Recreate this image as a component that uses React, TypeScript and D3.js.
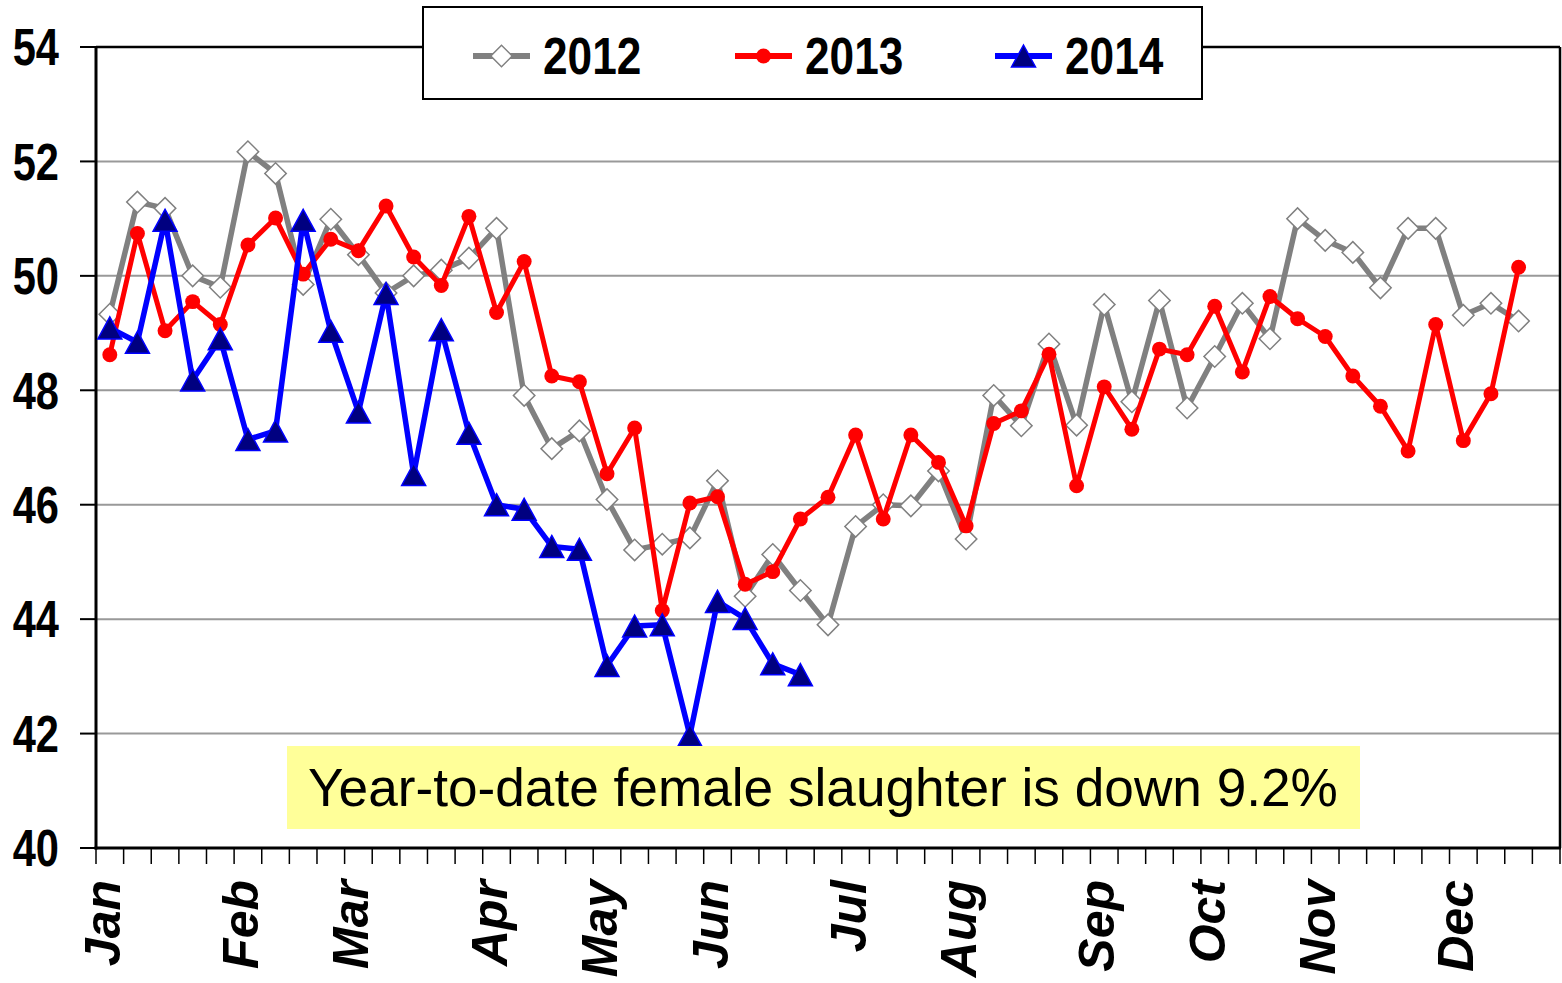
import * as d3 from 'd3';

const W = 1562;
const H = 983;

// weekly categories, 53 slots on the x axis
const weeks = d3.range(53);

const months = ['Jan', 'Feb', 'Mar', 'Apr', 'May', 'Jun', 'Jul', 'Aug', 'Sep', 'Oct', 'Nov', 'Dec'];
const monthWeeks = [0, 5, 9, 14, 18, 22, 27, 31, 36, 40, 44, 49];

const yTicks = [40, 42, 44, 46, 48, 50, 52, 54];

const series2012 = [
  49.33, 51.29, 51.18, 50.0, 49.8, 52.17, 51.79, 49.85, 50.99, 50.37,
  49.7, 50.0, 50.1, 50.31, 50.83, 47.91, 46.98, 47.29, 46.09, 45.21,
  45.31, 45.42, 46.42, 44.4, 45.13, 44.5, 43.9, 45.62, 46.0, 45.98,
  46.59, 45.4, 47.91, 47.38, 48.81, 47.39, 49.5, 47.8, 49.57, 47.69,
  48.59, 49.52, 48.9, 51.0, 50.62, 50.41, 49.79, 50.83, 50.83, 49.31,
  49.52, 49.21,
];

const series2013 = [
  48.62, 50.74, 49.04, 49.55, 49.15, 50.54, 51.01, 50.03, 50.64, 50.44,
  51.22, 50.33, 49.83, 51.04, 49.36, 50.25, 48.25, 48.15, 46.54, 47.34,
  44.15, 46.03, 46.14, 44.61, 44.83, 45.75, 46.13, 47.22, 45.75, 47.22,
  46.74, 45.63, 47.42, 47.64, 48.63, 46.33, 48.06, 47.32, 48.72, 48.62,
  49.47, 48.32, 49.64, 49.25, 48.94, 48.25, 47.72, 46.94, 49.15, 47.12,
  47.94, 50.15,
];

const series2014 = [
  49.09, 48.84, 50.97, 48.18, 48.9, 47.14, 47.29, 50.97, 49.03, 47.62,
  49.69, 46.53, 49.06, 47.25, 46.0, 45.92, 45.27, 45.22, 43.19, 43.88,
  43.9, 41.97, 44.31, 44.01, 43.22, 43.03,
];

const legendLabels = ['2012', '2013', '2014'];

const note = 'Year-to-date female slaughter is down 9.2%';

const sans = "'Liberation Sans', Arial, sans-serif";

const left = 96;
const right = 1560;
const top = 47;
const bottom = 848;

function triangle(w: number, h: number) {
  return `M0,${-h / 2}L${w / 2},${h / 2}L${-w / 2},${h / 2}Z`;
}

export default function App() {
  const x = d3.scaleBand<number>().domain(weeks).range([left, right]).paddingInner(0).paddingOuter(0);
  const y = d3.scaleLinear().domain([40, 54]).range([bottom, top]);
  const cx = (i: number) => (x(i) as number) + x.bandwidth() / 2;

  const line = d3.line<number>().x((d, i) => cx(i)).y(d => y(d));

  const diamond = d3.symbol().type(d3.symbolSquare).size(230)();
  const circle = d3.symbol().type(d3.symbolCircle).size(175)();
  const tri = triangle(24, 22);

  const tickXs = weeks.map(i => x(i) as number).concat([right]);

  const styles = [
    { color: '#808080', width: 5.5, data: series2012 },
    { color: '#ff0000', width: 5, data: series2013 },
    { color: '#0000ff', width: 5.5, data: series2014 },
  ];

  const marker = (k: number, tx: number, ty: number, key?: number) => {
    if (k === 0) return <path key={key} d={diamond} transform={`translate(${tx},${ty}) rotate(45)`} fill="#fff" stroke="#808080" strokeWidth={1.5} />;
    if (k === 1) return <path key={key} d={circle} transform={`translate(${tx},${ty})`} fill="#ff0000" />;
    return <path key={key} d={tri} transform={`translate(${tx},${ty})`} fill="#000080" stroke="#0000ff" strokeWidth={1.5} />;
  };

  const legendX = [473, 735, 995];

  return (
    <svg width={W} height={H} style={{ position: 'absolute', left: 0, top: 0, background: '#fff' }}>
      {/* gridlines */}
      {yTicks.filter(t => t > 40 && t < 54).map(t => (
        <line key={t} x1={left} x2={right} y1={y(t)} y2={y(t)} stroke="#999" strokeWidth={2} />
      ))}

      {/* plot frame */}
      <line x1={left} x2={right} y1={top} y2={top} stroke="#000" strokeWidth={2.5} />
      <line x1={right} x2={right} y1={top} y2={bottom} stroke="#000" strokeWidth={2.5} />

      {/* y axis */}
      {yTicks.map(t => (
        <g key={t}>
          <line x1={80} x2={left} y1={y(t)} y2={y(t)} stroke="#000" strokeWidth={2} />
          <text transform={`translate(59,${y(t)}) scale(0.8,1)`} textAnchor="end" dominantBaseline="central"
            fontFamily={sans} fontWeight="bold" fontSize={52}>{t}</text>
        </g>
      ))}
      <line x1={left} x2={left} y1={top - 1} y2={bottom + 1.5} stroke="#000" strokeWidth={3} />

      {/* x axis */}
      {tickXs.map((tx, i) => (
        <line key={i} x1={tx} x2={tx} y1={bottom} y2={bottom + 16} stroke="#000" strokeWidth={1.5} />
      ))}
      <line x1={left - 1.5} x2={right + 1} y1={bottom} y2={bottom} stroke="#000" strokeWidth={3} />
      {months.map((m, k) => (
        <text key={m} transform={`translate(${cx(monthWeeks[k]) + 10},${880}) rotate(-90)`}
          textAnchor="end" fontFamily={sans} fontWeight="bold" fontStyle="italic" fontSize={50}>{m}</text>
      ))}

      {/* series */}
      {styles.map((s, k) => (
        <g key={k}>
          <path d={line(s.data) as string} fill="none" stroke={s.color} strokeWidth={s.width} strokeLinejoin="round" />
          {s.data.map((v, i) => marker(k, cx(i), y(v), i))}
        </g>
      ))}

      {/* legend */}
      <rect x={423} y={7} width={779} height={92} fill="#fff" stroke="#000" strokeWidth={2} />
      {styles.map((s, k) => (
        <g key={k} transform={`translate(${legendX[k]},56)`}>
          <line x1={0} x2={57} y1={0} y2={0} stroke={s.color} strokeWidth={6} />
          {marker(k, 28.5, 0)}
          <text transform="translate(70,0) scale(0.85,1)" dominantBaseline="central"
            fontFamily={sans} fontWeight="bold" fontSize={52}>{legendLabels[k]}</text>
        </g>
      ))}

      {/* note */}
      <rect x={287} y={746} width={1073} height={83} fill="#ffff99" />
      <text x={308} y={806} fontFamily={sans} fontSize={53.2} fill="#000">{note}</text>
    </svg>
  );
}
